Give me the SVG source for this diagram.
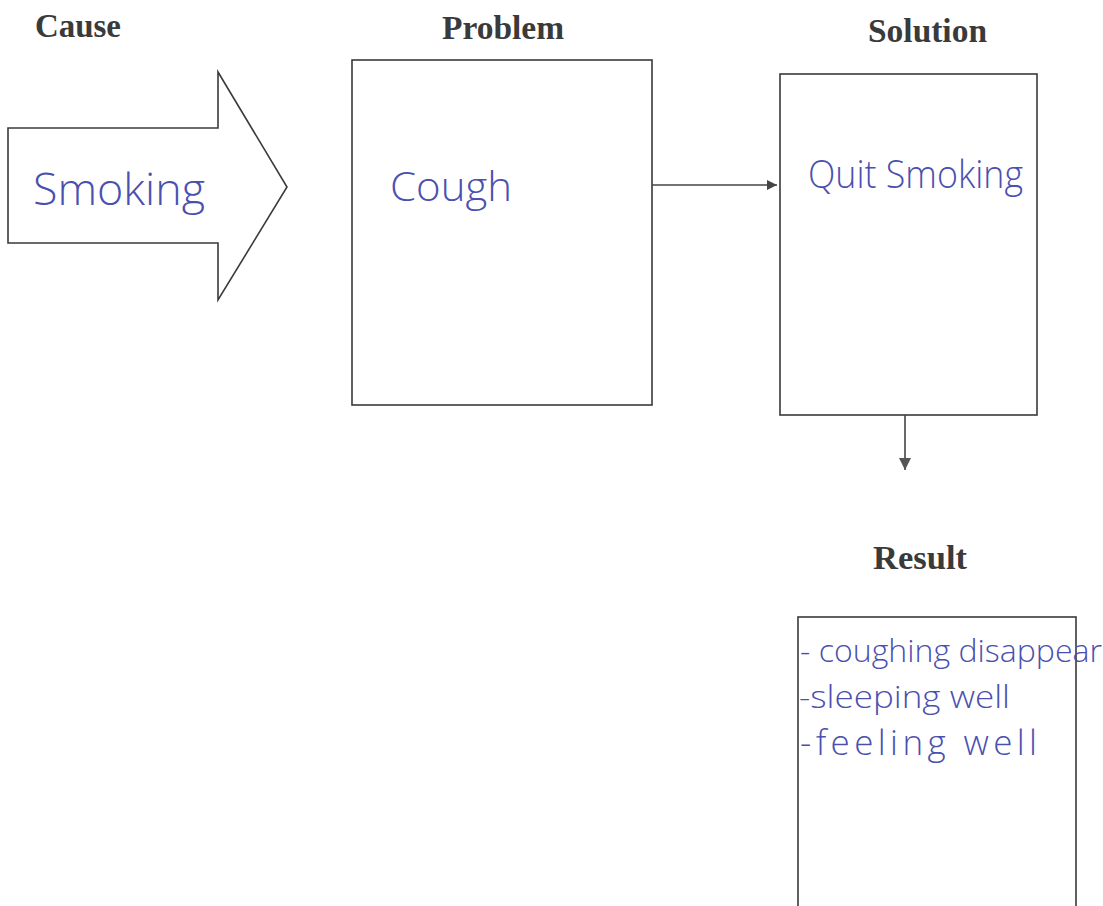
<svg xmlns="http://www.w3.org/2000/svg" width="1103" height="906" viewBox="0 0 1103 906">
  <style>
    .head { font-family: "Liberation Serif", "Times New Roman", serif; font-weight: bold; font-size: 33px; fill: #3a3a3a; }
    .hand { font-family: "Open Sans", "DejaVu Sans", sans-serif; font-weight: 300; fill: #4a50b0; }
    .box { fill: none; stroke: #3a3a3a; stroke-width: 1.6; }
    .conn { fill: none; stroke: #444; stroke-width: 1.6; }
  </style>
  <defs>
    <marker id="ah" viewBox="0 0 10 10" refX="10" refY="5" markerWidth="12" markerHeight="10" markerUnits="userSpaceOnUse" orient="auto">
      <path d="M0,0 L10,5 L0,10 z" fill="#444"/>
    </marker>
    <marker id="ah2" viewBox="0 0 10 10" refX="10" refY="5" markerWidth="12" markerHeight="12" markerUnits="userSpaceOnUse" orient="auto">
      <path d="M0,0 L10,5 L0,10 z" fill="#555"/>
    </marker>
  </defs>
  <rect width="1103" height="906" fill="#ffffff"/>

  <g id="cause">
    <text class="head" x="35" y="37" textLength="86" lengthAdjust="spacingAndGlyphs">Cause</text>
    <polygon class="box" points="8,128 218,128 218,72 287,187 218,300 218,243 8,243"/>
    <text class="hand" x="33" y="205" font-size="44" textLength="172" lengthAdjust="spacingAndGlyphs">Smoking</text>
  </g>

  <g id="problem">
    <text class="head" x="442" y="39" textLength="122" lengthAdjust="spacingAndGlyphs">Problem</text>
    <rect class="box" x="352" y="60" width="300" height="345"/>
    <text class="hand" x="390" y="201" font-size="40" textLength="122" lengthAdjust="spacingAndGlyphs">Cough</text>
  </g>

  <g id="solution">
    <text class="head" x="868" y="42" textLength="119" lengthAdjust="spacingAndGlyphs">Solution</text>
    <rect class="box" x="780" y="74" width="257" height="341"/>
    <text class="hand" x="808" y="188" font-size="38" textLength="215" lengthAdjust="spacingAndGlyphs">Quit Smoking</text>
  </g>

  <g id="result">
    <text class="head" x="873" y="569" textLength="94" lengthAdjust="spacingAndGlyphs">Result</text>
    <rect class="box" x="798" y="617" width="278" height="300"/>
    <text class="hand" x="800" y="662" font-size="32" textLength="302" lengthAdjust="spacingAndGlyphs">- coughing disappear</text>
    <text class="hand" x="799" y="708" font-size="32" textLength="211" lengthAdjust="spacingAndGlyphs">-sleeping well</text>
    <text class="hand" x="800" y="755" font-size="35" textLength="237" lengthAdjust="spacing">-feeling well</text>
  </g>

  <g id="connectors">
    <line class="conn" x1="652" y1="185" x2="777" y2="185" marker-end="url(#ah)"/>
    <line class="conn" x1="905" y1="415" x2="905" y2="470" marker-end="url(#ah2)"/>
  </g>
</svg>
